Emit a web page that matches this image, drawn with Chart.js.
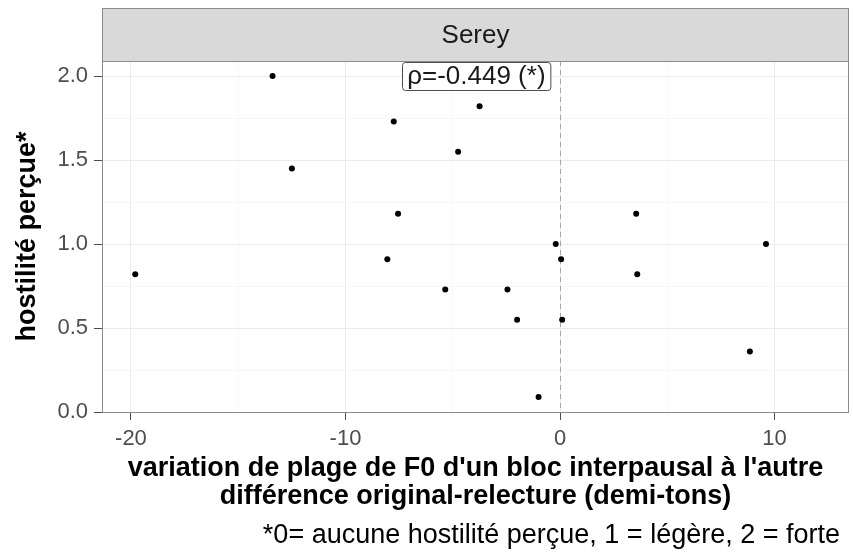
<!DOCTYPE html>
<html lang="fr">
<head>
<meta charset="utf-8">
<title>Serey - hostilité perçue</title>
<script src="https://cdn.jsdelivr.net/npm/chart.js@4.4.0/dist/chart.umd.min.js"></script>
<style>
    html, body { margin: 0; padding: 0; background: #ffffff; }
    #chartWrap { width: 853px; height: 558px; }
</style>
</head>
<body>
<div id="chartWrap"><canvas id="hostiliteChart" width="853" height="558"></canvas></div>
<script>
// Valeurs (différence de plage F0, hostilité perçue)
const f0Variation = [-13.4, -12.5, -7.75, -7.55, -8.05, -19.8, -3.75, -4.75, 3.55, -0.2,
                     0.05, 9.6, 3.6, -5.35, -2.45, -2.0, 0.1, 8.85, -1.0];
const hostilite   = [2.0, 1.45, 1.73, 1.18, 0.91, 0.82, 1.82, 1.55, 1.18, 1.0,
                     0.91, 1.0, 0.82, 0.73, 0.73, 0.55, 0.55, 0.36, 0.09];

const xMajorTicks = [-20, -10, 0, 10];
const yMajorTicks = [0.0, 0.5, 1.0, 1.5, 2.0];
const xLimits = [-21.35, 13.47];
const yLimits = [0, 2.09];

const panelTitle = 'Serey';
const rhoLabel = 'ρ=-0.449 (*)';
const rhoPosition = [-3.9, 2.0];
const xTitle = ["variation de plage de F0 d'un bloc interpausal à l'autre",
                'différence original-relecture (demi-tons)'];
const yTitle = 'hostilité perçue*';
const caption = '*0= aucune hostilité perçue, 1 = légère, 2 = forte';

const FONT = '"Liberation Sans", Arial, Helvetica, sans-serif';

function isMajor(list, value) {
    return list.some(v => Math.abs(v - value) < 1e-6);
}

/**
 * Strip du panneau, bordure, ligne pointillée à 0, étiquette rho et légende
 */
const facetDecor = {
    id: 'facetDecor',
    beforeDatasetsDraw(chart) {
        const { ctx, chartArea, scales } = chart;
        const x0 = scales.x.getPixelForValue(0);
        ctx.save();
        ctx.strokeStyle = '#a6a6a6';
        ctx.lineWidth = 1;
        ctx.setLineDash([5, 4]);
        ctx.beginPath();
        ctx.moveTo(Math.round(x0) + 0.5, chartArea.top);
        ctx.lineTo(Math.round(x0) + 0.5, chartArea.bottom);
        ctx.stroke();
        ctx.restore();
    },
    afterDraw(chart) {
        const { ctx, chartArea, scales } = chart;
        const { left, right, top, bottom } = chartArea;
        ctx.save();

        // panel border
        ctx.strokeStyle = '#8c8c8c';
        ctx.lineWidth = 1;
        ctx.strokeRect(left + 0.5, top + 0.5, right - left - 1, bottom - top);

        // strip
        const stripTop = 8;
        ctx.fillStyle = '#d9d9d9';
        ctx.fillRect(left, stripTop, right - left, top - stripTop);
        ctx.strokeRect(left + 0.5, stripTop + 0.5, right - left - 1, top - stripTop);
        ctx.fillStyle = '#1a1a1a';
        ctx.font = '26px ' + FONT;
        ctx.textAlign = 'center';
        ctx.textBaseline = 'middle';
        ctx.fillText(panelTitle, (left + right) / 2, (stripTop + top) / 2 + 1);

        // rho label
        const cx = scales.x.getPixelForValue(rhoPosition[0]);
        const cy = scales.y.getPixelForValue(rhoPosition[1]);
        ctx.font = '26px ' + FONT;
        const w = ctx.measureText(rhoLabel).width + 10;
        const h = 28;
        ctx.beginPath();
        ctx.roundRect(Math.round(cx - w / 2) + 0.5, Math.round(cy - h / 2) + 0.5, w, h, 3);
        ctx.fillStyle = '#ffffff';
        ctx.fill();
        ctx.strokeStyle = '#4d4d4d';
        ctx.stroke();
        ctx.fillStyle = '#1a1a1a';
        ctx.fillText(rhoLabel, cx, cy + 1);

        // caption
        ctx.font = '27px ' + FONT;
        ctx.textAlign = 'right';
        ctx.fillStyle = '#000000';
        ctx.fillText(caption, 840, 536);
        ctx.restore();
    }
};

function initializeHostiliteChart() {
    const ctx = document.getElementById('hostiliteChart');
    const points = f0Variation.map((x, i) => ({ x: x, y: hostilite[i] }));

    Chart.defaults.font.family = FONT;

    new Chart(ctx, {
        type: 'scatter',
        data: {
            datasets: [{
                data: points,
                backgroundColor: '#000000',
                borderWidth: 0,
                pointRadius: 3,
                pointHoverRadius: 3
            }]
        },
        options: {
            responsive: false,
            animation: false,
            devicePixelRatio: 1,
            layout: { padding: { top: 61, right: 4, bottom: 47, left: 0 } },
            plugins: {
                legend: { display: false },
                tooltip: { enabled: false }
            },
            scales: {
                x: {
                    type: 'linear',
                    min: xLimits[0],
                    max: xLimits[1],
                    afterFit: scale => { scale.height = 99; },
                    border: { display: false },
                    grid: {
                        color: c => isMajor(xMajorTicks, c.tick.value) ? '#ebebeb' : '#f5f5f5',
                        lineWidth: c => isMajor(xMajorTicks, c.tick.value) ? 1 : 0.8,
                        tickColor: c => isMajor(xMajorTicks, c.tick.value) ? '#4d4d4d' : 'rgba(0,0,0,0)',
                        tickLength: 8
                    },
                    ticks: {
                        stepSize: 5,
                        includeBounds: false,
                        autoSkip: false,
                        maxRotation: 0,
                        padding: 6,
                        color: '#4d4d4d',
                        font: { size: 22 },
                        callback: v => isMajor(xMajorTicks, v) ? String(v) : ''
                    },
                    title: {
                        display: true,
                        text: xTitle,
                        color: '#000000',
                        font: { size: 27, weight: 'bold', lineHeight: '28px' },
                        padding: { top: 0, bottom: 0 }
                    }
                },
                y: {
                    type: 'linear',
                    min: yLimits[0],
                    max: yLimits[1],
                    afterFit: scale => { scale.width = 102; },
                    border: { display: false },
                    grid: {
                        color: c => isMajor(yMajorTicks, c.tick.value) ? '#ebebeb' : '#f5f5f5',
                        lineWidth: c => isMajor(yMajorTicks, c.tick.value) ? 1 : 0.8,
                        tickColor: c => isMajor(yMajorTicks, c.tick.value) ? '#4d4d4d' : 'rgba(0,0,0,0)',
                        tickLength: 8
                    },
                    ticks: {
                        stepSize: 0.25,
                        includeBounds: false,
                        autoSkip: false,
                        padding: 6,
                        color: '#4d4d4d',
                        font: { size: 22 },
                        callback: v => isMajor(yMajorTicks, v) ? v.toFixed(1) : ''
                    },
                    title: {
                        display: true,
                        text: yTitle,
                        color: '#000000',
                        font: { size: 27, weight: 'bold', lineHeight: 1.2 },
                        padding: { top: 11, bottom: 0 }
                    }
                }
            }
        },
        plugins: [facetDecor]
    });
}

document.addEventListener('DOMContentLoaded', initializeHostiliteChart);
</script>
</body>
</html>
